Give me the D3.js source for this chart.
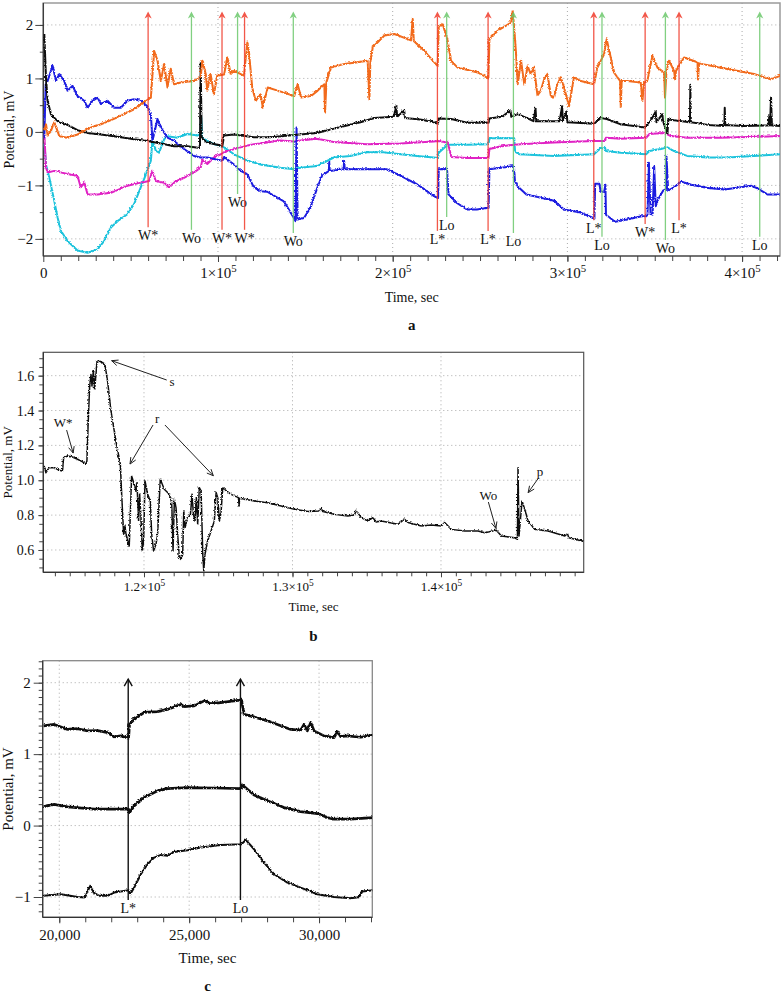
<!DOCTYPE html>
<html><head><meta charset="utf-8">
<script src="https://cdn.jsdelivr.net/npm/d3@7"></script>
<style>
body{margin:0;background:#fff}
svg{display:block}
text{font-family:"Liberation Serif","Times New Roman",serif;fill:#111}
</style>
</head><body>
<svg id="chart" width="784" height="997">
<defs>
<filter id="fuzz" filterUnits="userSpaceOnUse" x="0" y="0" width="784" height="997">
<feTurbulence type="turbulence" baseFrequency="0.7" numOctaves="1" seed="4" result="t"/>
<feDisplacementMap in="SourceGraphic" in2="t" scale="2.4" xChannelSelector="R" yChannelSelector="G"/>
</filter>
</defs>
</svg>
<script>
// ===================== DATA =====================
// Panel a: time in units of 1000 s, potential in mV
const aBlack = [[0,1.85],[0.4,1.5],[1,1.0],[1.9,0.6],[3.8,0.35],[7.6,0.22],[11.4,0.16],[13.3,0.15],[19,0.05],[24.8,0.0],[32.4,-0.03],[41.9,-0.07],[51.4,-0.12],[59,-0.15],[66.7,-0.2],[74.3,-0.25],[81.9,-0.25],[89.1,-0.28],[89.5,1.3],[90.1,-0.1],[93.3,-0.18],[99,-0.22],[101.9,-0.25],[102.9,-0.05],[108.6,-0.03],[120,-0.08],[130,-0.08],[143,-0.04],[156,0.0],[166,0.08],[181,0.2],[189,0.28],[200,0.3],[201.5,0.5],[202,0.3],[206,0.42],[206.5,0.28],[215,0.25],[221,0.22],[225.3,0.17],[225.8,0.27],[233,0.26],[242,0.19],[254.3,0.19],[254.8,0.27],[262,0.3],[266.8,0.42],[267.3,0.3],[271,0.35],[276,0.28],[280,0.22],[281.2,0.45],[281.6,0.22],[295,0.22],[296.4,0.5],[296.8,0.22],[299,0.4],[299.4,0.2],[314.7,0.17],[318.5,0.28],[322,0.26],[330,0.16],[344,0.1],[346.5,0.19],[350,0.4],[350.4,0.2],[353.8,0.35],[354.2,0.22],[356.7,-0.02],[357.2,0.25],[365,0.22],[369.6,0.2],[369.8,0.9],[370.1,0.2],[380,0.15],[389.3,0.13],[389.5,0.47],[389.8,0.15],[400,0.13],[414.5,0.14],[415,0.3],[415.4,0.14],[416,0.66],[416.5,0.14],[421.6,0.13]];
const aOrange = [[0,0.05],[1,0.16],[1.9,-0.05],[3.8,0.04],[5.7,0.2],[8.6,-0.06],[13.3,-0.09],[19,-0.03],[26.7,0.1],[32.4,0.16],[41.9,0.29],[51.4,0.44],[57.1,0.57],[61,0.66],[62.9,1.53],[64.8,1.35],[66.7,0.97],[68.6,1.29],[70.5,0.85],[72.4,1.2],[74.3,0.91],[78.1,0.94],[85.7,0.97],[89.5,1.04],[90.5,1.35],[92.4,1.1],[93.3,0.79],[95.2,1.1],[97.1,0.72],[99,1.07],[102.9,1.09],[104.8,1.41],[106.7,1.1],[108.6,1.16],[114.3,1.07],[116.2,1.69],[117.1,1.53],[119,0.85],[121,0.6],[123.8,0.72],[125,0.47],[127.9,0.85],[133.6,0.79],[143.1,0.69],[145,0.91],[147,0.66],[152.7,0.69],[156.5,0.79],[160.3,0.91],[160.7,0.38],[161.5,0.95],[164.1,1.22],[171.8,1.29],[179.4,1.32],[185.1,1.35],[186.1,0.63],[186.6,1.3],[188,1.6],[194.7,1.82],[200.4,1.85],[209.9,1.73],[210.9,2.13],[211.5,1.72],[217.6,1.53],[225.2,1.25],[225.8,1.97],[228.1,2.03],[230.9,1.72],[232.8,1.35],[236.6,1.22],[248.1,1.13],[254.2,1.02],[254.8,1.75],[259.5,1.91],[267.2,2.06],[268.1,2.28],[269.1,1.9],[270,1.5],[271,0.91],[272.9,1.35],[274.8,0.9],[276.7,1.25],[278.4,1.1],[280.3,1.22],[282.3,0.7],[284.2,0.79],[286.1,1.0],[288,1.1],[289.9,0.7],[291.8,0.66],[293.7,0.9],[295.6,1.04],[297.5,0.85],[300.4,0.5],[303.2,1.04],[307.1,0.97],[314.7,0.91],[316.6,1.22],[320.4,1.47],[321.9,1.75],[323.3,1.55],[326.1,1.13],[329.6,0.97],[330,0.47],[330.5,0.97],[333.8,0.97],[341.4,0.94],[342.4,0.6],[343.3,0.94],[345.2,0.97],[348.1,1.44],[351,1.22],[354.8,1.13],[355.3,0.66],[356.1,1.13],[357.6,1.35],[360.5,1.16],[361.1,1.0],[361.6,1.16],[366.2,1.41],[373.9,1.32],[374.2,1.0],[374.8,1.3],[387.2,1.22],[406.3,1.1],[415.8,1.0],[421.6,1.07]];
const aBlue = [[0,-0.1],[0.8,0.9],[1.9,0.97],[3.8,1.16],[4.8,1.25],[6.7,0.97],[8.6,1.1],[11.4,0.97],[13.3,0.79],[16.2,0.88],[19,0.69],[22.9,0.6],[24.8,0.47],[27.6,0.6],[30.5,0.66],[32.4,0.54],[36.2,0.6],[40,0.47],[43.8,0.47],[47.6,0.6],[51.4,0.63],[55.2,0.6],[59,0.5],[61,0.35],[61.9,-0.15],[64.8,0.26],[66.7,0.1],[70.5,-0.09],[74.3,-0.15],[80,-0.3],[85.7,-0.43],[89.5,-0.46],[93.3,-0.46],[101.9,-0.52],[102.9,-0.45],[108.6,-0.59],[112.4,-0.71],[116.2,-0.77],[120,-1.02],[123.8,-1.09],[127.6,-1.1],[137.1,-1.28],[142.9,-1.59],[143.8,-1.65],[144.4,0.1],[145,-1.62],[148.6,-1.59],[152.4,-1.4],[156.2,-1.03],[159,-0.8],[162.9,-0.71],[163.1,-0.55],[163.4,-0.71],[171.4,-0.68],[171.6,-0.52],[172,-0.68],[184.8,-0.68],[196.2,-0.68],[203.8,-0.8],[213.3,-0.96],[222.9,-1.18],[225.4,-1.22],[225.8,-0.68],[230.5,-0.68],[231.4,-1.15],[236.2,-1.31],[241.9,-1.43],[247.6,-1.43],[254.3,-1.4],[254.8,-0.68],[268.8,-0.62],[269.4,-0.9],[271,-1.0],[276,-1.15],[280,-1.18],[291.8,-1.27],[297.5,-1.43],[307,-1.49],[314.9,-1.6],[315.3,-0.95],[317.7,-0.95],[318.5,-1.1],[320.5,-1.1],[321.2,-0.97],[321.5,-1.53],[326.7,-1.66],[332.4,-1.63],[341.9,-1.56],[344.5,-1.56],[345.3,-1.53],[346.1,-0.56],[347,-1.5],[348.2,-1.53],[349.1,-0.63],[350,-1.37],[351.4,-1.24],[354.2,-1.08],[355.9,-1.05],[356.1,-0.43],[357.1,-1.08],[359.9,-1.03],[362.4,-0.97],[364.7,-0.91],[370.4,-0.97],[379.9,-1.03],[389.5,-1.06],[404.7,-0.99],[408.5,-1.04],[413.9,-1.15],[421.6,-1.15]];
const aCyan = [[0,-0.2],[0.8,-0.5],[1,-0.6],[2.9,-0.84],[5.7,-1.27],[7.6,-1.58],[9.5,-1.83],[13.3,-2.02],[19,-2.2],[24.8,-2.24],[30.5,-2.18],[34.3,-2.02],[38.1,-1.77],[41.9,-1.65],[47.6,-1.52],[51.4,-1.33],[55.2,-1.02],[59,-0.71],[61,-0.52],[61.9,-0.15],[63.8,-0.33],[65.7,-0.37],[68.6,-0.12],[70.5,-0.06],[76.2,-0.09],[81.9,-0.02],[87.6,-0.05],[89.5,-0.02],[89.7,0.35],[90.5,-0.1],[97.1,-0.21],[102.9,-0.27],[108.6,-0.4],[116.2,-0.52],[123.8,-0.59],[135.2,-0.65],[142.9,-0.68],[146.7,-0.65],[156.2,-0.62],[165.7,-0.46],[175.2,-0.43],[184.8,-0.36],[194.3,-0.36],[203.8,-0.4],[213.3,-0.43],[222.9,-0.46],[225.4,-0.47],[225.8,-0.37],[230.9,-0.22],[242,-0.22],[254.3,-0.21],[254.8,-0.1],[269,-0.1],[269.5,-0.35],[272,-0.4],[291.8,-0.43],[314.7,-0.4],[316.6,-0.34],[318,-0.3],[321,-0.28],[321.5,-0.34],[330,-0.37],[344.5,-0.4],[346.4,-0.34],[353,-0.3],[356.7,-0.27],[360.5,-0.34],[368,-0.43],[379.5,-0.46],[391,-0.46],[406.3,-0.43],[421.6,-0.4]];
const aMagenta = [[0,-0.02],[1,-0.65],[1.9,-0.74],[5.7,-0.71],[13.3,-0.77],[19,-0.8],[20.9,-1.02],[22.9,-0.93],[24.8,-1.15],[30.5,-1.15],[38.1,-1.12],[47.6,-0.99],[55.2,-0.93],[60,-0.9],[61.9,-0.71],[63.8,-0.9],[68.6,-0.93],[71.4,-1.02],[74.3,-0.93],[80,-0.84],[85.7,-0.74],[89.5,-0.65],[90.5,-0.5],[93.3,-0.58],[97.1,-0.46],[104.8,-0.34],[112.4,-0.27],[120,-0.21],[123.8,-0.2],[135,-0.14],[143,-0.16],[146.7,-0.14],[156.2,-0.11],[165.7,-0.17],[184.8,-0.21],[203.8,-0.2],[222.9,-0.16],[225.4,-0.15],[230.9,-0.18],[233,-0.45],[242,-0.47],[254.3,-0.47],[254.8,-0.3],[262,-0.25],[269,-0.22],[272.7,-0.21],[291.8,-0.18],[314.7,-0.15],[321,-0.15],[321.5,-0.09],[330,-0.11],[344.5,-0.09],[346.4,-0.02],[355,0.0],[358.6,-0.06],[368,-0.09],[387,-0.09],[421.6,-0.06]];
const aEventTimes = [60,84.8,102.3,111.2,115.2,143.1,225.6,230.9,254.6,269.1,315.1,319.8,344.5,356.1,363.9,410.1];
const aEventLabels = ["W*","Wo","W*","Wo","W*","Wo","L*","Lo","L*","Lo","L*","Lo","W*","Wo","L*","Lo"];
const aEventLabelLevel = [-1.93,-1.98,-1.98,-1.31,-1.98,-2.04,-2.0,-1.74,-2.0,-2.04,-1.8,-2.11,-1.87,-2.17,-1.8,-2.11];
const aXTicks = [0,100,200,300,400];
const aXTickLabels = ["0","1×10^5","2×10^5","3×10^5","4×10^5"];
const aYTicks = [-2,-1,0,1,2];

// Panel b: time in units of 1000 s
const bSeries = [[113.21,1.088],[113.33,1.049],[113.55,1.078],[113.89,1.078],[114.22,1.063],[114.45,1.059],[114.52,1.135],[114.79,1.145],[115.12,1.139],[115.46,1.126],[115.80,1.111],[116.02,1.097],[116.09,1.116],[116.18,1.346],[116.27,1.537],[116.36,1.613],[116.43,1.546],[116.52,1.633],[116.61,1.527],[116.70,1.613],[116.76,1.680],[116.92,1.690],[117.15,1.680],[117.30,1.671],[117.48,1.575],[117.71,1.403],[118.04,1.231],[118.34,1.097],[118.43,0.925],[118.56,0.696],[118.65,0.743],[118.74,0.686],[118.94,0.629],[119.10,1.030],[119.28,0.982],[119.39,0.944],[119.46,0.992],[119.57,0.772],[119.64,0.925],[119.73,0.791],[119.82,0.600],[119.91,0.657],[120.00,1.002],[120.18,0.925],[120.36,0.887],[120.45,0.696],[120.58,0.600],[120.74,0.638],[120.85,0.696],[121.03,1.011],[121.30,0.954],[121.64,0.925],[121.80,0.877],[121.89,0.600],[121.98,0.896],[122.09,0.849],[122.20,0.696],[122.31,0.562],[122.43,0.552],[122.54,0.581],[122.61,0.829],[122.70,0.734],[122.81,0.772],[122.92,0.791],[123.06,0.810],[123.17,0.925],[123.26,0.810],[123.37,0.772],[123.46,0.906],[123.55,0.753],[123.66,0.963],[123.78,0.944],[123.89,0.581],[123.96,0.485],[124.04,0.581],[124.22,0.657],[124.45,0.715],[124.67,0.772],[124.79,0.935],[124.90,0.906],[125.01,0.772],[125.12,0.820],[125.24,0.963],[125.35,0.954],[125.80,0.925],[126.29,0.906],[126.34,0.858],[126.38,0.902],[127.37,0.887],[128.27,0.877],[129.17,0.858],[130.07,0.839],[130.97,0.826],[131.75,0.829],[131.87,0.843],[131.98,0.826],[132.76,0.810],[133.66,0.801],[134.11,0.807],[134.22,0.833],[134.56,0.791],[135.01,0.772],[135.35,0.791],[135.57,0.766],[135.91,0.772],[137.03,0.753],[137.48,0.782],[137.71,0.763],[138.61,0.743],[139.28,0.749],[139.96,0.743],[140.18,0.763],[140.63,0.724],[141.53,0.715],[142.43,0.715],[142.88,0.705],[143.66,0.719],[144.00,0.686],[144.90,0.676],[145.08,0.667],[145.12,1.078],[145.19,0.686],[145.39,0.887],[145.57,0.839],[145.80,0.772],[146.25,0.724],[147.15,0.715],[148.27,0.686],[148.45,0.699],[148.54,0.676],[148.94,0.667],[149.62,0.654]];
const bAnnoText = ["W*","s","r","Wo","p"];
const bAnnoTextPos = [[114.55,1.329],[121.89,1.564],[120.88,1.352],[143.19,0.912],[146.67,1.049]];
const bAnnoArrows = [[[114.79,1.288],[115.23,1.156]],[[121.53,1.575],[117.82,1.686]],[[120.61,1.317],[119.06,1.093]],[[121.41,1.317],[124.67,1.026]],[[143.19,0.875],[143.70,0.724]],[[146.55,1.011],[145.87,0.929]]];
const bXTicks = [120,130,140];
const bXTickLabels = ["1.2×10^5","1.3×10^5","1.4×10^5"];
const bYTicks = [0.6,0.8,1.0,1.2,1.4,1.6];

// Panel c: time in s
const cTop = [[19359,1.41],[19769,1.43],[20026,1.395],[20282,1.36],[20667,1.37],[21051,1.34],[21436,1.345],[21820,1.316],[22077,1.255],[22333,1.27],[22628,1.237],[22667,1.43],[22846,1.5],[23231,1.6],[23744,1.61],[24128,1.64],[24641,1.71],[24769,1.68],[25154,1.69],[25538,1.76],[25795,1.72],[26179,1.736],[26692,1.76],[26974,1.77],[27077,1.57],[27461,1.535],[27974,1.48],[28487,1.41],[28871,1.36],[29256,1.35],[29384,1.43],[29512,1.34],[29641,1.456],[29769,1.34],[30153,1.27],[30538,1.246],[30666,1.33],[30794,1.26],[31051,1.27],[31564,1.25],[32038,1.28]];
const cMiddle = [[19359,0.28],[19769,0.31],[20282,0.275],[21308,0.243],[22628,0.243],[22667,0.196],[22846,0.29],[23231,0.406],[23744,0.5],[24128,0.532],[24897,0.546],[25923,0.54],[26974,0.532],[27013,0.583],[27461,0.443],[27974,0.36],[28615,0.266],[29256,0.21],[29897,0.182],[30282,0.126],[30538,0.103],[31179,0.103],[32038,0.126]];
const cBottom = [[19359,-0.97],[20026,-0.947],[20667,-0.985],[20949,-0.994],[21077,-0.89],[21154,-0.83],[21282,-0.924],[21500,-0.97],[21820,-0.97],[22077,-0.924],[22628,-0.89],[22692,-0.947],[22846,-0.854],[23102,-0.667],[23359,-0.527],[23615,-0.434],[23872,-0.397],[24128,-0.41],[24384,-0.355],[24897,-0.331],[25410,-0.294],[26179,-0.257],[26974,-0.247],[27141,-0.187],[27461,-0.317],[27846,-0.504],[28231,-0.667],[28743,-0.784],[29256,-0.854],[29897,-0.947],[30538,-0.985],[31179,-1.003],[31500,-0.99],[31628,-0.91],[32038,-0.89]];
const cEventTimes = [22654,26974];
const cEventLabels = ["L*","Lo"];
const cXTicks = [20000,25000,30000];
const cXTickLabels = ["20,000","25,000","30,000"];
const cYTicks = [-1,0,1,2];

// ===================== DRAWING =====================
const FONT = '"Liberation Serif","Times New Roman",serif';
const svg = d3.select("#chart");

function setLabel(t, str){
  const parts = str.split("^");
  t.text(parts[0]);
  if(parts[1]) t.append("tspan").attr("dy","-0.5em").attr("font-size","0.72em").text(parts[1]);
}

function panel(o){
  const x = d3.scaleLinear().domain(o.xDomain).range([o.L,o.R]);
  const y = d3.scaleLinear().domain(o.yDomain).range([o.B,o.T]);
  const g = svg.append("g");
  svg.select("defs").append("clipPath").attr("id","clip-"+o.id).append("rect")
    .attr("x",o.L).attr("y",o.T).attr("width",o.R-o.L).attr("height",o.B-o.T);
  g.append("g").selectAll("line").data(o.yGrid).join("line")
    .attr("x1",o.L).attr("x2",o.R).attr("y1",d=>y(d)).attr("y2",d=>y(d))
    .attr("stroke","#aaa").attr("stroke-width",1).attr("stroke-dasharray","1,3");
  g.append("g").selectAll("line").data(o.xGrid).join("line")
    .attr("y1",o.T).attr("y2",o.B).attr("x1",d=>x(d)).attr("x2",d=>x(d))
    .attr("stroke","#aaa").attr("stroke-width",1).attr("stroke-dasharray","1,3");
  g.append("rect").attr("x",o.L).attr("y",o.T).attr("width",o.R-o.L).attr("height",o.B-o.T)
    .attr("fill","none").attr("stroke",o.frame).attr("stroke-width",o.frameW);
  const xm = g.append("g").attr("transform",`translate(0,${o.B})`)
    .call(d3.axisBottom(x).tickValues(o.xMinor).tickSize(o.xMinorLen).tickFormat(""));
  xm.select(".domain").remove();
  const xa = g.append("g").attr("transform",`translate(0,${o.B})`)
    .call(d3.axisBottom(x).tickValues(o.xTicks).tickSize(o.xMajorLen).tickPadding(o.xPad).tickFormat(""));
  xa.select(".domain").remove();
  xa.attr("font-family",FONT).attr("font-size",o.xFont);
  xa.selectAll(".tick text").attr("fill","#111").each(function(d,i){ setLabel(d3.select(this), o.xLabels[i]); });
  const ym = g.append("g").attr("transform",`translate(${o.L},0)`)
    .call(d3.axisLeft(y).tickValues(o.yMinor).tickSize(o.yMinorLen).tickFormat(""));
  ym.select(".domain").remove();
  const ya = g.append("g").attr("transform",`translate(${o.L},0)`)
    .call(d3.axisLeft(y).tickValues(o.yTicks).tickSize(o.yMajorLen).tickPadding(o.yPad).tickFormat(o.yFormat));
  ya.select(".domain").remove();
  ya.attr("font-family",FONT).attr("font-size",o.yFont);
  ya.selectAll(".tick text").attr("fill","#111");
  g.selectAll(".tick line").attr("stroke","#444");
  g.append("line").attr("x1",o.L).attr("x2",o.L).attr("y1",o.T).attr("y2",o.B).attr("stroke","#333").attr("stroke-width",1.2);
  g.append("line").attr("x1",o.L).attr("x2",o.R).attr("y1",o.B).attr("y2",o.B).attr("stroke","#333").attr("stroke-width",1.2);
  g.append("text").attr("transform",`translate(${o.yTitleX},${(o.T+o.B)/2}) rotate(-90)`)
    .attr("text-anchor","middle").attr("font-size",o.titleFont).text("Potential, mV");
  g.append("text").attr("x",(o.L+o.R)/2).attr("y",o.xTitleY).attr("text-anchor","middle")
    .attr("font-size",o.titleFont).text("Time, sec");
  g.append("text").attr("x",(o.L+o.R)/2).attr("y",o.letterY).attr("text-anchor","middle")
    .attr("font-size",15).attr("font-weight","bold").text(o.letter);
  const plot = svg.append("g").attr("clip-path",`url(#clip-${o.id})`).append("g").attr("filter","url(#fuzz)");
  return {x,y,g,plot};
}

// ---------- Panel a ----------
const A = panel({id:"a", L:43.3, R:780, T:3, B:256, xDomain:[0,421.7], yDomain:[-2.32,2.41],
  yGrid:aYTicks, xGrid:aXTicks.filter(d=>d>0), frame:"#9a9a9a", frameW:1.5,
  xTicks:aXTicks, xLabels:aXTickLabels, xMinor:d3.range(10,421,10), xMajorLen:6, xMinorLen:5, xPad:5, xFont:15,
  yTicks:aYTicks, yMinor:d3.range(-2,2.01,0.5), yMajorLen:8, yMinorLen:3.5, yPad:2, yFont:15, yFormat:d3.format("d"),
  yTitleX:14, xTitleY:302, letterY:330, letter:"a", titleFont:14});
const lineA = d3.line().x(d=>A.x(d[0])).y(d=>A.y(d[1]));
[[aCyan,"#1fc3dc"],[aMagenta,"#e024c4"],[aBlue,"#1b1be0"],[aBlack,"#111"],[aOrange,"#f26a1b"]].forEach(([d,c])=>{
  A.plot.append("path").datum(d).attr("d",lineA).attr("fill","none").attr("stroke",c)
    .attr("stroke-width",2).attr("stroke-linejoin","round");
});
const tipLevel = 2.25;
aEventTimes.forEach((t,i)=>{
  const isStar = aEventLabels[i].includes("*");
  const col = isStar ? "#f03a2a" : "#6cc86c";
  const xx = A.x(t), ly = A.y(aEventLabelLevel[i]), ty = A.y(tipLevel);
  const ev = svg.append("g").attr("opacity",0.85);
  ev.append("line").attr("x1",xx).attr("x2",xx).attr("y1",ly-8).attr("y2",ty+5)
    .attr("stroke",col).attr("stroke-width",1.3);
  ev.append("path").attr("d",`M${xx},${ty} L${xx-3.6},${ty+7} L${xx},${ty+5} L${xx+3.6},${ty+7} Z`).attr("fill",col);
  svg.append("text").attr("x",xx).attr("y",ly).attr("dy","0.35em").attr("text-anchor","middle")
    .attr("font-size",14).text(aEventLabels[i]);
});

// ---------- Panel b ----------
const Bp = panel({id:"b", L:43.3, R:583.7, T:352.3, B:572.3, xDomain:[113.22,149.61], yDomain:[0.472,1.734],
  yGrid:bYTicks, xGrid:bXTicks, frame:"#555", frameW:1.2,
  xTicks:bXTicks, xLabels:bXTickLabels, xMinor:d3.range(114,150,1), xMajorLen:5, xMinorLen:4, xPad:4, xFont:13,
  yTicks:bYTicks, yMinor:d3.range(0.5,1.71,0.05), yMajorLen:5, yMinorLen:4, yPad:4, yFont:14, yFormat:d3.format(".1f"),
  yTitleX:11.5, xTitleY:611, letterY:641, letter:"b", titleFont:13});
const lineB = d3.line().x(d=>Bp.x(d[0])).y(d=>Bp.y(d[1]));
Bp.plot.append("path").datum(bSeries).attr("d",lineB).attr("fill","none").attr("stroke","#111")
  .attr("stroke-width",1.5).attr("stroke-linejoin","round");
function openArrow(g, x1,y1,x2,y2, col, w){
  g.append("line").attr("x1",x1).attr("y1",y1).attr("x2",x2).attr("y2",y2).attr("stroke",col).attr("stroke-width",w);
  const a = Math.atan2(y2-y1,x2-x1), L=7, s=0.42;
  const p1=[x2-L*Math.cos(a-s), y2-L*Math.sin(a-s)], p2=[x2-L*Math.cos(a+s), y2-L*Math.sin(a+s)];
  g.append("path").attr("d",`M${p1[0]},${p1[1]} L${x2},${y2} L${p2[0]},${p2[1]}`).attr("fill","none")
    .attr("stroke",col).attr("stroke-width",w);
}
bAnnoText.forEach((t,i)=>{
  svg.append("text").attr("x",Bp.x(bAnnoTextPos[i][0])).attr("y",Bp.y(bAnnoTextPos[i][1])).attr("dy","0.35em")
    .attr("text-anchor","middle").attr("font-size",13).text(t);
});
const bAnn = svg.append("g");
bAnnoArrows.forEach(([f,t])=>openArrow(bAnn, Bp.x(f[0]),Bp.y(f[1]),Bp.x(t[0]),Bp.y(t[1]),"#222",1));

// ---------- Panel c ----------
const C = panel({id:"c", L:42.7, R:372.3, T:660.7, B:917.3, xDomain:[19362,32050], yDomain:[-1.284,2.308],
  yGrid:cYTicks, xGrid:cXTicks, frame:"#888", frameW:1.3,
  xTicks:cXTicks, xLabels:cXTickLabels, xMinor:d3.range(20000,32001,1000), xMajorLen:6, xMinorLen:5, xPad:6, xFont:15,
  yTicks:cYTicks, yMinor:d3.range(-1.2,2.31,0.1), yMajorLen:9, yMinorLen:4, yPad:3, yFont:15, yFormat:d3.format("d"),
  yTitleX:13, xTitleY:963, letterY:991, letter:"c", titleFont:15});
const lineC = d3.line().x(d=>C.x(d[0])).y(d=>C.y(d[1]));
[[cTop,2.7],[cMiddle,2.7],[cBottom,2.0]].forEach(([d,w])=>{
  C.plot.append("path").datum(d).attr("d",lineC).attr("fill","none").attr("stroke","#111")
    .attr("stroke-width",w).attr("stroke-linejoin","round");
});
cEventTimes.forEach((t,i)=>{
  const xx = C.x(t), ty = C.y(2.05), ly = 908;
  const ev = svg.append("g");
  ev.append("line").attr("x1",xx).attr("x2",xx).attr("y1",ly-8).attr("y2",ty).attr("stroke","#111").attr("stroke-width",1.4);
  ev.append("path").attr("d",`M${xx-4},${ty+7} L${xx},${ty} L${xx+4},${ty+7}`).attr("fill","none").attr("stroke","#111").attr("stroke-width",1.4);
  svg.append("text").attr("x",xx).attr("y",ly).attr("dy","0.35em").attr("text-anchor","middle").attr("font-size",14).text(cEventLabels[i]);
});
</script>
</body></html>
